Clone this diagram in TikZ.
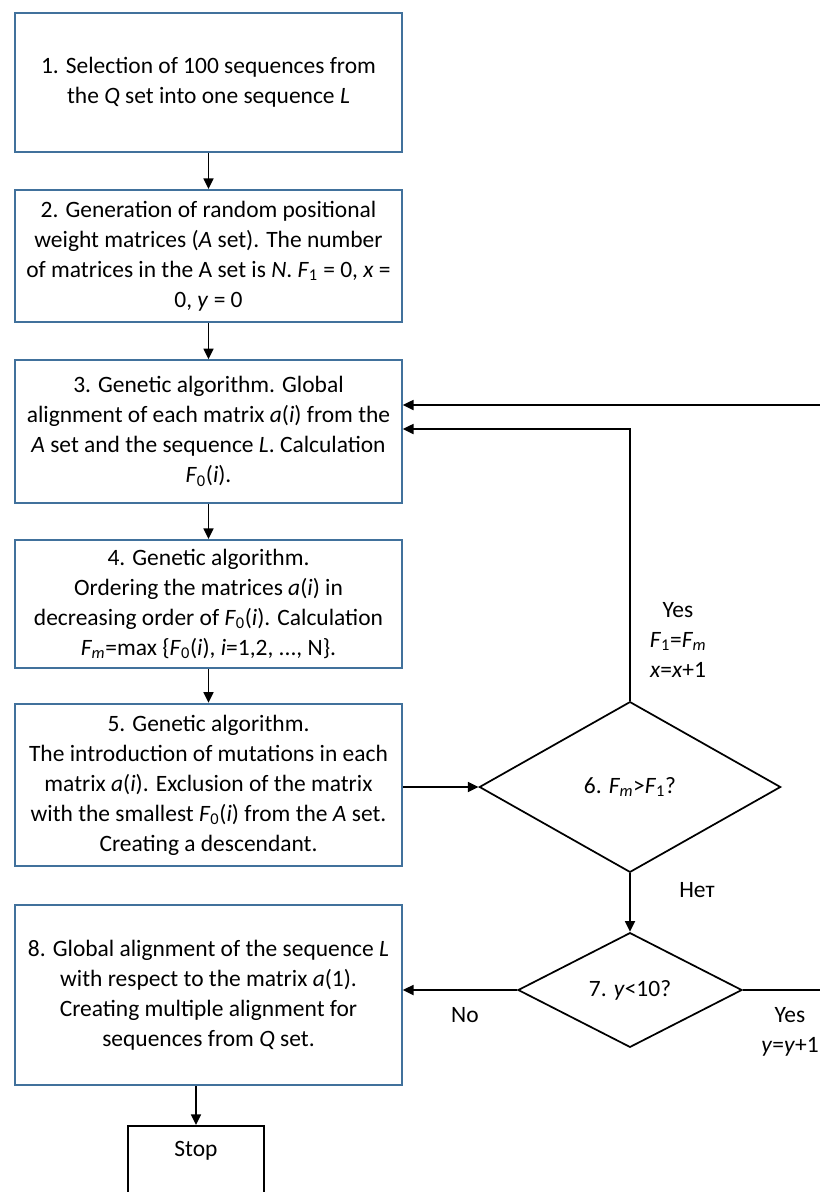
\documentclass[tikz,border=0pt]{standalone}
\usepackage{fontspec}
\setmainfont{Carlito}
\usetikzlibrary{arrows.meta,shapes.geometric}
\definecolor{boxblue}{HTML}{41719C}
\begin{document}
\begin{tikzpicture}[x=0.75pt,y=-0.75pt,line width=1.3pt,
    every node/.style={font=\fontsize{17.6}{22.5}\selectfont},
    box/.style={draw=boxblue,line width=1.5pt,minimum width=290pt,inner sep=0pt,align=center},
    decision/.style={draw,diamond,inner sep=0pt,aspect=1.8},
    note/.style={align=center,inner sep=0pt}]
  \useasboundingbox (0,0) rectangle (819,1192);
  \draw
    (208.5,82.5) node[box,minimum height=104pt] (1)
      {1. Selection of 100 sequences from\\the \textit{Q} set into one sequence \textit{L}}
    (208.5,256) node[box,minimum height=99pt] (2)
      {2. Generation of random positional\\weight matrices (\textit{A} set). The number\\of matrices in the A set is \textit{N}. \textit{F}\textsubscript{1} = 0, \textit{x} =\\0, \textit{y} = 0}
    (208.5,431.5) node[box,minimum height=107pt] (3)
      {3. Genetic algorithm. Global\\alignment of each matrix \textit{a}(\textit{i}) from the\\\textit{A} set and the sequence \textit{L}. Calculation\\\textit{F}\textsubscript{0}(\textit{i}).}
    (208.5,604) node[box,minimum height=96pt] (4)
      {4. Genetic algorithm.\\Ordering the matrices \textit{a}(\textit{i}) in\\decreasing order of \textit{F}\textsubscript{0}(\textit{i}). Calculation\\\textit{F\textsubscript{m}}=max \{\textit{F}\textsubscript{0}(\textit{i}), \textit{i}=1,2, ..., N\}.}
    (208.5,785) node[box,minimum height=122pt] (5)
      {5. Genetic algorithm.\\The introduction of mutations in each\\matrix \textit{a}(\textit{i}). Exclusion of the matrix\\with the smallest \textit{F}\textsubscript{0}(\textit{i}) from the \textit{A} set.\\Creating a descendant.}
    (630,787) node[decision,minimum width=226pt,minimum height=128pt] (6)
      {6. \textit{F\textsubscript{m}}>\textit{F}\textsubscript{1}?}
    (630,990) node[decision,minimum width=168pt,minimum height=86pt] (7)
      {7. \textit{y}<10?}
    (208.5,995) node[box,minimum height=135pt] (8)
      {8. Global alignment of the sequence \textit{L}\\with respect to the matrix \textit{a}(1).\\Creating multiple alignment for\\sequences from \textit{Q} set.}
    (196,1125) node[draw,anchor=north,minimum width=102pt,minimum height=75pt,text depth=40pt] (stop) {Stop};
  \draw
    (678,640) node[note] (yes6) {Yes\\\textit{F}\textsubscript{1}=\textit{F\textsubscript{m}}\\\textit{x}=\textit{x}+1}
    (697,890) node[note] (no6) {Нет}
    (465,1015) node[note] (no7) {No}
    (790,1032) node[note] (yes7) {Yes\\\textit{y}=\textit{y}+1};
  \coordinate (back) at (840,405);
  \begin{scope}[-{Triangle[length=8pt,width=7.5pt]}]
    \draw (1) to (2);
    \draw (2) to (3);
    \draw (3) to (4);
    \draw (4) to (5);
    \draw (5.east |- 6.west) to (6.west);
    \draw (6) to (7);
    \draw (7.west) to (7.west -| 8.east);
    \draw (8.south -| stop.north) to (stop.north);
    \draw (6.north) |- (3.east |- 0,429);
    \draw (7.east) -| (back) -- (back -| 3.east);
  \end{scope}
\end{tikzpicture}
\end{document}
